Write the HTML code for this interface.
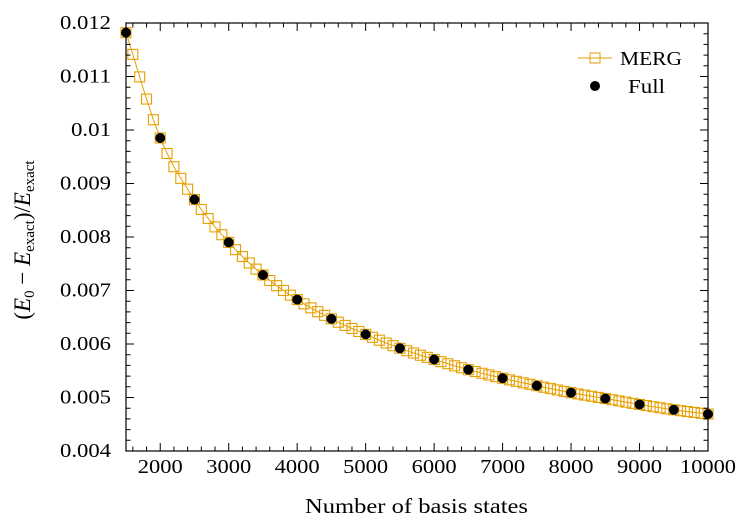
<!DOCTYPE html><html><head><style>body{margin:0;background:#fff}svg{font-family:"Liberation Serif",serif}</style></head><body>
<svg id="s" width="750" height="525" xmlns="http://www.w3.org/2000/svg"></svg>
<script>
const s=document.getElementById('s');
const X0=126,X1=708,Y0=451,Y1=23;
const xs=n=>X0+(n-1500)*(X1-X0)/8500, ys=v=>Y0-(v-0.004)*(Y0-Y1)/0.008;
const F=[[1500,.01182],[2000,.00985],[2500,.0087],[3000,.0079],[3500,.00729],[4000,.00683],[4500,.00647],[5000,.00618],[5500,.00592],[6000,.00571],[6500,.00552],[7000,.00536],[7500,.00522],[8000,.00509],[8500,.00498],[9000,.00487],[9500,.00477],[10000,.00469]];
function f(n){for(let i=0;i<F.length-1;i++){if(n<=F[i+1][0]){const a=F[Math.max(i-1,0)],b=F[i],c=F[i+1],d=F[Math.min(i+2,F.length-1)];const t=(n-b[0])/500;const m1=(c[1]-a[1])/(c[0]-a[0])*500,m2=(d[1]-b[1])/(d[0]-b[0])*500;const t2=t*t,t3=t2*t;return (2*t3-3*t2+1)*b[1]+(t3-2*t2+t)*m1+(-2*t3+3*t2)*c[1]+(t3-t2)*m2;}}return F[F.length-1][1];}
let h='';
let p='';for(let n=1500;n<=10000;n+=100)p+=(p?'L':'M')+xs(n).toFixed(1)+','+ys(f(n)).toFixed(1);
h+=`<path d="${p}" fill="none" stroke="#e69f00" stroke-width="1"/>`;
for(let n=1500;n<=10000;n+=100){h+=`<rect x="${xs(n)-5}" y="${ys(f(n))-5}" width="10" height="10" fill="none" stroke="#e69f00" stroke-width="1.1"/>`;}
for(const [n,v] of F)h+=`<circle cx="${xs(n)}" cy="${ys(v)}" r="5" fill="#000"/>`;
h+=`<rect x="${X0}" y="${Y1}" width="${X1-X0}" height="${Y0-Y1}" fill="none" stroke="#000" stroke-width="1.2"/>`;
for(let n=1600;n<10000;n+=200){const x=xs(n),L=(n%1000==0)?8:4.5;h+=`<path d="M${x},${Y0}v${-L}M${x},${Y1}v${L}" stroke="#000" stroke-width="1"/>`;}
for(let n=2000;n<=10000;n+=1000){const w=n<10000?45:56;h+=`<text x="${xs(n)}" y="473" font-size="20" text-anchor="middle" textLength="${w}" lengthAdjust="spacingAndGlyphs">${n}</text>`;}
for(let i=1;i<40;i++){const v=0.004+i*0.0002,y=ys(v),L=(i%5==0)?8:4.5;h+=`<path d="M${X0},${y}h${L}M${X1},${y}h${-L}" stroke="#000" stroke-width="1"/>`;}
const lab=['0.004','0.005','0.006','0.007','0.008','0.009','0.01','0.011','0.012'];
lab.forEach((t,i)=>{const w=t.length==5?51:40;h+=`<text x="${111-w}" y="${ys(0.004+i*0.001)+6}" font-size="20" textLength="${w}" lengthAdjust="spacingAndGlyphs">${t}</text>`;});
h+=`<text x="305" y="513" font-size="21" textLength="223" lengthAdjust="spacingAndGlyphs">Number of basis states</text>`;
h+=`<text transform="translate(30,240) rotate(-90)" font-size="23" text-anchor="middle">(<tspan font-style="italic">E</tspan><tspan font-size="15" dy="4">0</tspan><tspan dy="-4"> − </tspan><tspan font-style="italic">E</tspan><tspan font-size="15" dy="4">exact</tspan><tspan dy="-4">)/</tspan><tspan font-style="italic">E</tspan><tspan font-size="15" dy="4">exact</tspan></text>`;
h+=`<path d="M578,58H612" stroke="#e69f00"/><rect x="590" y="53" width="10" height="10" fill="none" stroke="#e69f00"/><text x="620" y="65" font-size="20" textLength="62" lengthAdjust="spacingAndGlyphs">MERG</text>`;
h+=`<circle cx="595" cy="86" r="5" fill="#000"/><text x="628" y="93" font-size="20" textLength="37" lengthAdjust="spacingAndGlyphs">Full</text>`;
s.innerHTML=h;
</script></body></html>
